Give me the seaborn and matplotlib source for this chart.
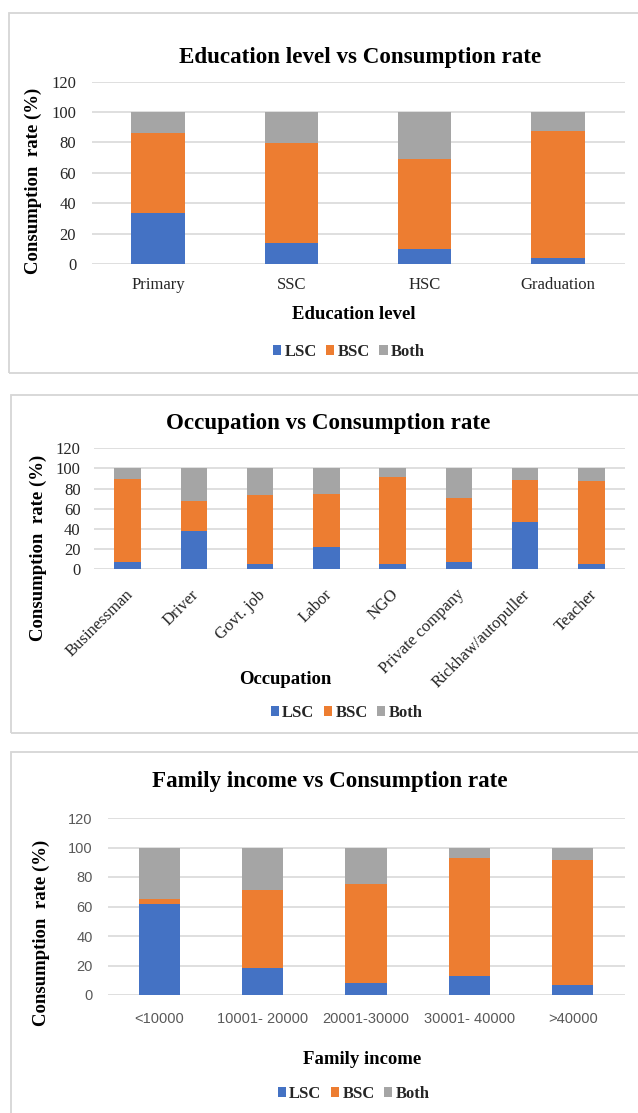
import matplotlib
matplotlib.use("Agg")
import matplotlib.pyplot as plt
from matplotlib.patches import Patch, Rectangle
from matplotlib.transforms import ScaledTranslation
import numpy as np
import seaborn as sns

# ---- data -------------------------------------------------------------
edu_levels = ["Primary", "SSC", "HSC", "Graduation"]
edu_lsc = [33.5, 14, 10, 4]
edu_bsc = [52.5, 65.5, 59, 83.5]
edu_both = [14, 20.5, 31, 12.5]

occupations = ["Businessman", "Driver", "Govt. job", "Labor", "NGO",
               "Private company", "Rickhaw/autopuller", "Teacher"]
occ_lsc = [7, 37.5, 5.5, 22, 5, 7, 46.5, 5.5]
occ_bsc = [82, 30, 68, 52.5, 86, 63.5, 41.5, 82]
occ_both = [11, 32.5, 26.5, 25.5, 9, 29.5, 12, 12.5]

incomes = ["<10000", "10001- 20000", "20001-30000", "30001- 40000", ">40000"]
inc_lsc = [61.5, 18, 8, 13, 7]
inc_bsc = [3.5, 53.5, 67.5, 80, 84.5]
inc_both = [35, 28.5, 24.5, 7, 8.5]

series_names = ["LSC", "BSC", "Both"]
y_ticks = [0, 20, 40, 60, 80, 100, 120]

# ---- style ------------------------------------------------------------
sns.set_style("white")
plt.rcParams["font.family"] = ["Liberation Serif", "DejaVu Serif"]

BLUE, ORANGE, GRAY = "#4472C4", "#ED7D31", "#A5A5A5"
GRID = "#D9D9D9"
W, H = 638, 1113

fig = plt.figure(figsize=(W / 100, H / 100), dpi=100)


def fx(px):
    return px / W


def fy(py):
    return 1 - py / H


def add_axes(left, right, y0, y120):
    return fig.add_axes([fx(left), fy(y0), fx(right) - fx(left),
                         (y0 - y120) / H])


def stacked(ax, cats, lsc, bsc, both):
    lsc = np.asarray(lsc, float)
    bsc = np.asarray(bsc, float)
    both = np.asarray(both, float)
    # Cumulative heights drawn back to front give a stacked column look
    for heights, col in [(lsc + bsc + both, GRAY), (lsc + bsc, ORANGE), (lsc, BLUE)]:
        sns.barplot(x=cats, y=heights, color=col, width=0.4, saturation=1,
                    linewidth=0, ax=ax, order=cats)
    ax.set_xlim(-0.5, len(cats) - 0.5)
    ax.set_ylim(0, 120)
    ax.set_yticks(y_ticks)
    ax.yaxis.grid(True, color=GRID, linewidth=1.2)
    ax.set_axisbelow(True)
    for s in ax.spines.values():
        s.set_visible(False)
    ax.tick_params(length=0)
    ax.set_xlabel("")
    ax.set_ylabel("")


def frame(x0, y0, y1):
    fig.add_artist(Rectangle((fx(x0), fy(y1)), fx(W + 5) - fx(x0),
                             fy(y0) - fy(y1), transform=fig.transFigure,
                             fill=False, edgecolor="#D6D6D6", linewidth=1.3))


def legend(ax, cx, cy):
    handles = [Patch(facecolor=c, edgecolor="none") for c in (BLUE, ORANGE, GRAY)]
    ax.legend(handles, series_names, loc="center", ncol=3, frameon=False,
              bbox_to_anchor=(fx(cx), fy(cy)), bbox_transform=fig.transFigure,
              prop={"family": "Liberation Serif", "weight": "bold", "size": 12},
              handlelength=0.5, handleheight=0.5, handletextpad=0.2,
              columnspacing=0.55, borderaxespad=0, borderpad=0)


title_kw = dict(ha="center", va="center", fontsize=16.6, fontweight="bold", color="black")
label_kw = dict(ha="center", va="center", fontsize=13.5, fontweight="bold", color="black")

# ---- panel 1: education ------------------------------------------------
frame(9, 12.7, 373)
ax1 = add_axes(91.5, 624.5, 264.3, 81.5)
stacked(ax1, edu_levels, edu_lsc, edu_bsc, edu_both)
ax1.tick_params(axis="x", pad=9.5, labelsize=12, labelcolor="#262626")
ax1.tick_params(axis="y", pad=11, labelsize=12, labelcolor="#262626")
fig.text(fx(360.5), fy(57), "Education level vs Consumption rate", **title_kw)
fig.text(fx(33.5), fy(181), "Consumption  rate (%)", rotation=90, **label_kw)
fig.text(fx(354), fy(315), "Education level", **label_kw)
legend(ax1, 349, 352)

# ---- panel 2: occupation -----------------------------------------------
frame(11.4, 395, 733)
ax2 = add_axes(94.4, 624.5, 569.3, 448.2)
stacked(ax2, occupations, occ_lsc, occ_bsc, occ_both)
ax2.tick_params(axis="x", pad=16.5, labelsize=12, labelcolor="#262626")
ax2.tick_params(axis="y", pad=10, labelsize=12, labelcolor="#262626")
shift_right = ScaledTranslation(3 / 100, 0, fig.dpi_scale_trans)
for lab in ax2.get_xticklabels():
    lab.set_rotation(45)
    lab.set_ha("right")
    lab.set_va("center")
    lab.set_rotation_mode("anchor")
    lab.set_transform(lab.get_transform() + shift_right)
fig.text(fx(328), fy(423), "Occupation vs Consumption rate", **title_kw)
fig.text(fx(38), fy(547.5), "Consumption  rate (%)", rotation=90, **label_kw)
fig.text(fx(285.5), fy(680), "Occupation", **label_kw)
legend(ax2, 346.5, 713)

# ---- panel 3: family income ---------------------------------------------
frame(11.4, 752, H + 10)
ax3 = add_axes(107.8, 624.5, 995, 818)
stacked(ax3, incomes, inc_lsc, inc_bsc, inc_both)
ax3.tick_params(axis="both", labelsize=10.5, labelcolor="#595959")
ax3.tick_params(axis="x", pad=12)
ax3.tick_params(axis="y", pad=11)
for lab in ax3.get_xticklabels() + ax3.get_yticklabels():
    lab.set_family(["Liberation Sans", "DejaVu Sans"])
fig.text(fx(329.5), fy(782), "Family income vs Consumption rate", **title_kw)
fig.text(fx(41.5), fy(933), "Consumption  rate (%)", rotation=90, **label_kw)
fig.text(fx(362), fy(1060), "Family income", **label_kw)
legend(ax3, 353.5, 1094)

fig.savefig("out.png", dpi=100, facecolor="white")
